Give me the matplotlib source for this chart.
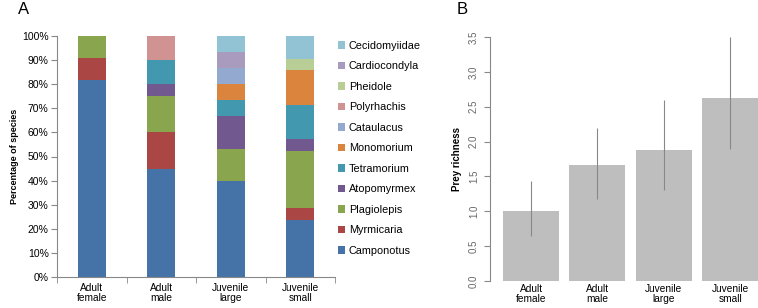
import matplotlib
matplotlib.use("Agg")
import matplotlib.pyplot as plt
import numpy as np

# panel A: percentage of prey species per group
groups = ["Adult\nfemale", "Adult\nmale", "Juvenile\nlarge", "Juvenile\nsmall"]
taxa = ["Camponotus", "Myrmicaria", "Plagiolepis", "Atopomyrmex", "Tetramorium",
        "Monomorium", "Cataulacus", "Polyrhachis", "Pheidole", "Cardiocondyla",
        "Cecidomyiidae"]
pct = {
    "Camponotus":    [81.8, 45.0, 40.0, 23.8],
    "Myrmicaria":    [9.1, 15.0, 0.0, 4.8],
    "Plagiolepis":   [9.1, 15.0, 13.3, 23.8],
    "Atopomyrmex":   [0.0, 5.0, 13.3, 4.8],
    "Tetramorium":   [0.0, 10.0, 6.7, 14.3],
    "Monomorium":    [0.0, 0.0, 6.7, 14.3],
    "Cataulacus":    [0.0, 0.0, 6.7, 0.0],
    "Polyrhachis":   [0.0, 10.0, 0.0, 0.0],
    "Pheidole":      [0.0, 0.0, 0.0, 4.8],
    "Cardiocondyla": [0.0, 0.0, 6.7, 0.0],
    "Cecidomyiidae": [0.0, 0.0, 6.6, 9.5],
}
colors = ["#4572A7", "#AA4643", "#89A54E", "#71588F", "#4198AF", "#DB843D",
          "#93A9CF", "#D19392", "#B9CD96", "#A99BBD", "#92C3D4"]

# panel B: prey richness with intervals
richness = [1.0, 1.67, 1.875, 2.625]
lower = [0.65, 1.18, 1.3, 1.9]
upper = [1.43, 2.2, 2.6, 3.5]

fig = plt.figure(figsize=(7.58, 3.08), dpi=100)
plt.rcParams["font.family"] = ["Liberation Sans", "DejaVu Sans"]

# ---- panel A
axA = fig.add_axes([57/758, 1-277/308, 278/758, 241/308])
x = np.arange(len(groups))
bottom = np.zeros(len(groups))
handles = []
for t, c in zip(taxa, colors):
    vals = np.array(pct[t])
    h = axA.bar(x, vals, 0.4, bottom=bottom, color=c, label=t)
    handles.append(h)
    bottom += vals
axA.set_xlim(-0.5, 3.5)
axA.set_ylim(0, 100)
axA.set_yticks(np.arange(0, 101, 10))
axA.set_yticklabels([f"{v}%" for v in range(0, 101, 10)], fontsize=7.5)
axA.set_xticks(x)
axA.set_xticklabels(groups, fontsize=7.3, linespacing=1.05)
axA.set_xticks([-0.5, 0.5, 1.5, 2.5, 3.5], minor=True)
axA.tick_params(axis="x", which="major", length=0, pad=4)
axA.tick_params(axis="x", which="minor", length=4, color="#888888")
axA.tick_params(axis="y", length=4, color="#888888", pad=2)
for s in ["top", "right"]:
    axA.spines[s].set_visible(False)
axA.spines["left"].set_color("#888888")
axA.spines["bottom"].set_color("#888888")
axA.set_ylabel("Percentage of species", fontsize=6.5, fontweight="bold", labelpad=2)
leg = fig.legend(handles[::-1], taxa[::-1], loc="upper left",
                 bbox_to_anchor=(330/758, 1-33/308), frameon=False, fontsize=7.8,
                 handlelength=0.7, handleheight=0.7, handletextpad=0.35,
                 labelspacing=0.97, borderpad=0.2)
fig.text(18/758, 1-10/308, "A", fontsize=12, va="center", ha="left")

# ---- panel B
axB = fig.add_axes([490/758, 1-281/308, 268/758, 244/308])
axB.bar(x, richness, 0.845, color="#BEBEBE")
axB.vlines(x, lower, upper, color="#888888", lw=0.8, clip_on=False)
axB.set_xlim(-0.62, 3.42)
axB.set_ylim(0, 3.5)
axB.set_yticks(np.arange(0, 3.51, 0.5))
axB.set_yticklabels([f"{v:.1f}" for v in np.arange(0, 3.51, 0.5)],
                    rotation=90, va="center", fontsize=7, color="#666666")
axB.set_xticks(x)
axB.set_xticklabels(groups, fontsize=7.3, linespacing=1.0)
axB.tick_params(axis="x", length=0, pad=2)
axB.tick_params(axis="y", length=4, color="#888888", pad=4)
for s in ["top", "right", "bottom"]:
    axB.spines[s].set_visible(False)
axB.spines["left"].set_color("#888888")
axB.spines["left"].set_bounds(0, 3.5)
axB.set_ylabel("Prey richness", fontsize=7, fontweight="bold", labelpad=5)
fig.text(457/758, 1-10/308, "B", fontsize=12, va="center", ha="left")

fig.savefig("out.png", dpi=100)
